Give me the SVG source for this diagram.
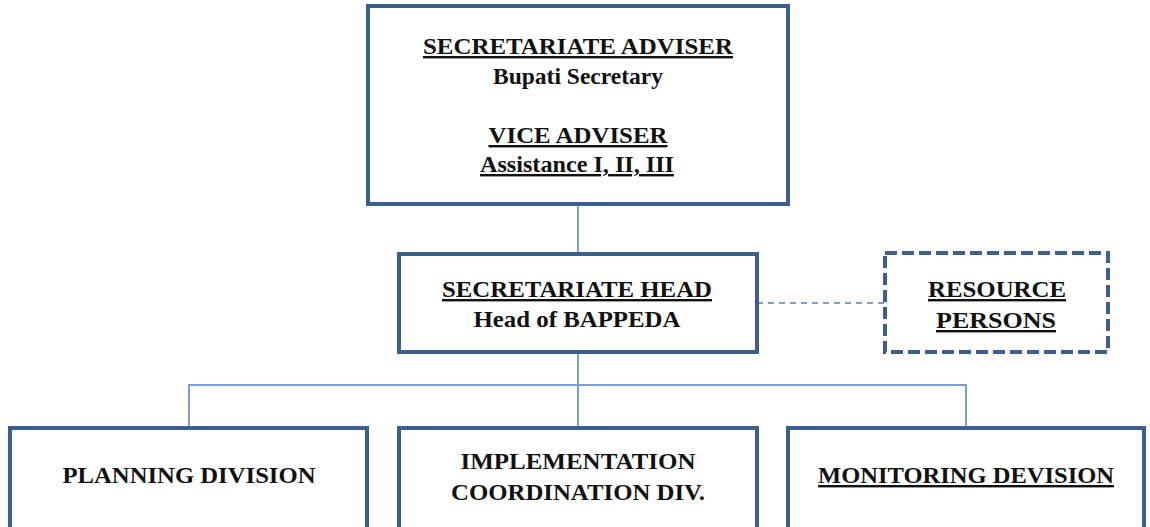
<svg xmlns="http://www.w3.org/2000/svg" width="1150" height="527" viewBox="0 0 1150 527">
  <style>
    .box { fill: #ffffff; stroke: #3d5f90; stroke-width: 4; }
    .dashed { stroke-dasharray: 12 5; }
    .link { fill: none; stroke: #7c9fd3; stroke-width: 2; }
    .link-dash { fill: none; stroke: #7c9fd3; stroke-width: 2; stroke-dasharray: 6 5; }
    text { font-family: "Liberation Serif", "Times New Roman", serif; font-weight: bold; font-size: 24px; fill: #111111; text-anchor: middle; }
    .u { text-decoration: underline; }
  </style>

  <!-- connectors -->
  <g id="connectors">
    <line class="link" x1="578" y1="204" x2="578" y2="254"/>
    <line class="link" x1="578" y1="352" x2="578" y2="427"/>
    <polyline class="link" points="189,427 189,385 966,385 966,427"/>
    <line class="link-dash" x1="757" y1="303" x2="885" y2="303"/>
  </g>

  <!-- adviser -->
  <g id="adviser">
    <rect class="box" x="368" y="6" width="420" height="198"/>
    <text class="u" x="578" y="54" textLength="310" lengthAdjust="spacingAndGlyphs">SECRETARIATE ADVISER</text>
    <text x="578" y="84" textLength="170" lengthAdjust="spacingAndGlyphs">Bupati Secretary</text>
    <text class="u" x="578" y="143" textLength="179" lengthAdjust="spacingAndGlyphs">VICE ADVISER</text>
    <text class="u" x="577" y="172" textLength="194" lengthAdjust="spacingAndGlyphs">Assistance I, II, III</text>
  </g>

  <!-- secretariate head -->
  <g id="head">
    <rect class="box" x="399" y="254" width="358" height="98"/>
    <text class="u" x="577" y="297" textLength="270" lengthAdjust="spacingAndGlyphs">SECRETARIATE HEAD</text>
    <text x="577" y="327" textLength="207" lengthAdjust="spacingAndGlyphs">Head of BAPPEDA</text>
  </g>

  <!-- resource persons -->
  <g id="resource">
    <rect class="box dashed" x="885" y="253" width="223" height="99"/>
    <text class="u" x="997" y="297" textLength="138" lengthAdjust="spacingAndGlyphs">RESOURCE</text>
    <text class="u" x="996" y="328" textLength="120" lengthAdjust="spacingAndGlyphs">PERSONS</text>
  </g>

  <!-- planning -->
  <g id="planning">
    <rect class="box" x="10" y="428" width="357" height="104"/>
    <text x="189" y="483" textLength="253" lengthAdjust="spacingAndGlyphs">PLANNING DIVISION</text>
  </g>

  <!-- implementation -->
  <g id="implementation">
    <rect class="box" x="399" y="428" width="358" height="104"/>
    <text x="578" y="469" textLength="235" lengthAdjust="spacingAndGlyphs">IMPLEMENTATION</text>
    <text x="578" y="500" textLength="254" lengthAdjust="spacingAndGlyphs">COORDINATION DIV.</text>
  </g>

  <!-- monitoring -->
  <g id="monitoring">
    <rect class="box" x="788" y="428" width="356" height="104"/>
    <text class="u" x="966" y="483" textLength="296" lengthAdjust="spacingAndGlyphs">MONITORING DEVISION</text>
  </g>
</svg>
